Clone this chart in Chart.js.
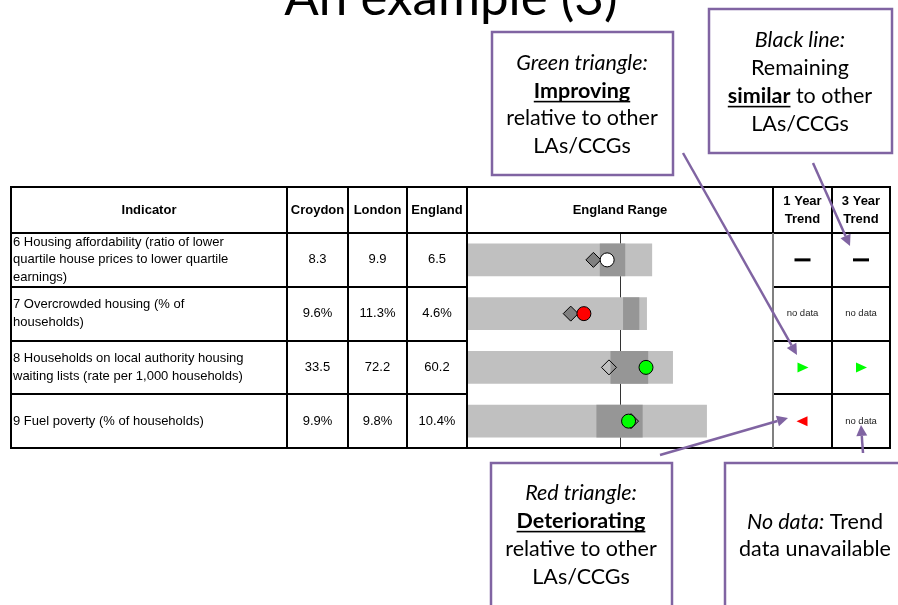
<!DOCTYPE html>
<html>
<head>
<meta charset="utf-8">
<script src="https://cdn.jsdelivr.net/npm/chart.js@4/dist/chart.umd.min.js"></script>
<style>
  html, body { margin: 0; padding: 0; background: #fff; }
  canvas { display: block; }
</style>
</head>
<body>
<canvas id="spine" width="898" height="605"></canvas>
<script>
// Table data
const indicatorIds = ['6', '7', '8', '9'];
const indicatorLines = [
  ['6 Housing affordability (ratio of lower', 'quartile house prices to lower quartile', 'earnings)'],
  ['7 Overcrowded housing (% of', 'households)'],
  ['8 Households on local authority housing', 'waiting lists (rate per 1,000 households)'],
  ['9 Fuel poverty (% of households)']
];
const croydon = ['8.3', '9.6%', '33.5', '9.9%'];
const london = ['9.9', '11.3%', '72.2', '9.8%'];
const england = ['6.5', '4.6%', '60.2', '10.4%'];

// Spine positions, 0-100 across the England Range column (England average = 50)
const englandAvg = 50;
const rangeStart = [0, 0, 0, 0];
const rangeEnd = [60.4, 58.7, 67.2, 78.3];
const q1 = [43.5, 51.1, 47.0, 42.4];
const q3 = [51.6, 56.2, 59.1, 57.3];
const londonPos = [41.3, 33.9, 46.4, 53.6];
const croydonPos = [45.8, 38.2, 58.5, 52.8];
const croydonSig = ['none', 'worse', 'better', 'better'];

// Trends
const trend1 = ['same', 'nodata', 'up', 'down'];
const trend3 = ['same', 'nodata', 'up', 'nodata'];

const sigColour = { none: '#FFFFFF', worse: '#FF0000', better: '#00FF00' };
const londonFill = ['#808080', '#808080', 'rgba(0,0,0,0)', '#808080'];

const TAB = '"Liberation Sans", Arial, sans-serif';
const CAL = 'Lato, "Open Sans", sans-serif';
const PURPLE = '#8064A2';
const colX = [11, 287, 348, 407, 467, 773, 832, 890];
const tableTop = 187, headBottom = 233;

function runsLine(ctx, runs, cx, cy, size) {
  let total = 0;
  runs.forEach(r => {
    ctx.font = (r.s || '') + ' ' + size + 'px ' + CAL;
    r.w = ctx.measureText(r.t).width;
    total += r.w;
  });
  let x = cx - total / 2;
  const base = cy + size * 0.34;
  ctx.textAlign = 'left';
  ctx.textBaseline = 'alphabetic';
  ctx.fillStyle = '#000';
  runs.forEach(r => {
    ctx.font = (r.s || '') + ' ' + size + 'px ' + CAL;
    ctx.fillText(r.t, x, base);
    if (r.u) {
      ctx.fillRect(x, base + 2.5, r.w, 1.6);
    }
    x += r.w;
  });
}

function callout(ctx, box, lines, cx) {
  ctx.fillStyle = '#fff';
  ctx.fillRect(box[0], box[1], box[2] - box[0], box[3] - box[1]);
  ctx.strokeStyle = PURPLE;
  ctx.lineWidth = 2.5;
  ctx.strokeRect(box[0], box[1], box[2] - box[0], box[3] - box[1]);
  lines.forEach(l => runsLine(ctx, l.runs, cx, l.y, 21.5));
}

function arrow(ctx, x0, y0, x1, y1) {
  const a = Math.atan2(y1 - y0, x1 - x0);
  const len = 11, hw = 5.5;
  const bx = x1 - Math.cos(a) * len, by = y1 - Math.sin(a) * len;
  ctx.strokeStyle = PURPLE;
  ctx.fillStyle = PURPLE;
  ctx.lineWidth = 2.5;
  ctx.beginPath();
  ctx.moveTo(x0, y0);
  ctx.lineTo(bx, by);
  ctx.stroke();
  ctx.beginPath();
  ctx.moveTo(x1, y1);
  ctx.lineTo(bx + Math.sin(a) * hw, by - Math.cos(a) * hw);
  ctx.lineTo(bx - Math.sin(a) * hw, by + Math.cos(a) * hw);
  ctx.closePath();
  ctx.fill();
}

function trendMark(ctx, kind, cx, cy) {
  if (kind === 'same') {
    ctx.fillStyle = '#000';
    ctx.fillRect(cx - 8, cy - 1.5, 16, 3);
  } else if (kind === 'up') {
    ctx.fillStyle = '#00FF00';
    ctx.beginPath();
    ctx.moveTo(cx - 5, cy - 5);
    ctx.lineTo(cx + 6, cy);
    ctx.lineTo(cx - 5, cy + 5);
    ctx.closePath();
    ctx.fill();
  } else if (kind === 'down') {
    ctx.fillStyle = '#FF0000';
    ctx.beginPath();
    ctx.moveTo(cx + 5, cy - 5);
    ctx.lineTo(cx - 6, cy);
    ctx.lineTo(cx + 5, cy + 5);
    ctx.closePath();
    ctx.fill();
  } else {
    ctx.fillStyle = '#222';
    ctx.font = '9.5px ' + TAB;
    ctx.textAlign = 'center';
    ctx.textBaseline = 'middle';
    ctx.fillText('no data', cx, cy);
  }
}

const slidePlugin = {
  id: 'slide',
  beforeDatasetsDraw(chart) {
    const ctx = chart.ctx, a = chart.chartArea;
    const x = Math.round(chart.scales.x.getPixelForValue(englandAvg)) + 0.5;
    ctx.save();
    ctx.strokeStyle = '#333';
    ctx.lineWidth = 1;
    ctx.beginPath();
    ctx.moveTo(x, a.top);
    ctx.lineTo(x, a.bottom);
    ctx.stroke();
    ctx.restore();
  },
  afterDraw(chart) {
    const ctx = chart.ctx, a = chart.chartArea, ys = chart.scales.y;
    const rowH = (a.bottom - a.top) / indicatorIds.length;
    ctx.save();

    // title
    ctx.fillStyle = '#000';
    ctx.font = '44px ' + CAL;
    const tw = ctx.measureText('An example (3)').width;
    ctx.font = (44 * 333 / tw).toFixed(1) + 'px ' + CAL;
    ctx.textAlign = 'center';
    ctx.textBaseline = 'alphabetic';
    ctx.fillText('An example (3)', 451, 15);

    // table header text
    ctx.fillStyle = '#000';
    ctx.font = 'bold 13px ' + TAB;
    ctx.textAlign = 'center';
    ctx.textBaseline = 'middle';
    const hy = (tableTop + headBottom) / 2;
    ctx.fillText('Indicator', (colX[0] + colX[1]) / 2, hy);
    ctx.fillText('Croydon', (colX[1] + colX[2]) / 2, hy);
    ctx.fillText('London', (colX[2] + colX[3]) / 2, hy);
    ctx.fillText('England', (colX[3] + colX[4]) / 2, hy);
    ctx.fillText('England Range', (colX[4] + colX[5]) / 2, hy);
    ctx.fillText('1 Year', (colX[5] + colX[6]) / 2, hy - 9);
    ctx.fillText('Trend', (colX[5] + colX[6]) / 2, hy + 9);
    ctx.fillText('3 Year', (colX[6] + colX[7]) / 2, hy - 9);
    ctx.fillText('Trend', (colX[6] + colX[7]) / 2, hy + 9);

    // table body text
    indicatorIds.forEach((id, i) => {
      const cy = ys.getPixelForValue(i);
      ctx.font = '13px ' + TAB;
      ctx.fillStyle = '#000';
      ctx.textAlign = 'left';
      const lines = indicatorLines[i];
      lines.forEach((t, k) => {
        ctx.fillText(t, colX[0] + 2, cy + (k - (lines.length - 1) / 2) * 17.5);
      });
      ctx.textAlign = 'center';
      ctx.fillText(croydon[i], (colX[1] + colX[2]) / 2, cy);
      ctx.fillText(london[i], (colX[2] + colX[3]) / 2, cy);
      ctx.fillText(england[i], (colX[3] + colX[4]) / 2, cy);
      trendMark(ctx, trend1[i], (colX[5] + colX[6]) / 2, cy);
      trendMark(ctx, trend3[i], (colX[6] + colX[7]) / 2, cy);
    });

    // grid
    ctx.strokeStyle = '#000';
    ctx.lineWidth = 2;
    const hl = (x0, x1, y) => { ctx.beginPath(); ctx.moveTo(x0, y); ctx.lineTo(x1, y); ctx.stroke(); };
    const vl = (x, y0, y1) => { ctx.beginPath(); ctx.moveTo(x, y0); ctx.lineTo(x, y1); ctx.stroke(); };
    hl(colX[0] - 1, colX[7] + 1, tableTop);
    hl(colX[0] - 1, colX[7] + 1, headBottom);
    hl(colX[0] - 1, colX[7] + 1, a.bottom);
    for (let r = 1; r < indicatorIds.length; r++) {
      const y = Math.round(a.top + r * rowH);
      hl(colX[0], colX[4], y);
      hl(colX[5], colX[7], y);
    }
    colX.forEach((x, k) => {
      if (k === 5) {
        vl(x, tableTop, headBottom);
      } else {
        vl(x, tableTop, a.bottom);
      }
    });
    ctx.strokeStyle = '#808080';
    vl(colX[5], headBottom, a.bottom);

    // callouts
    callout(ctx, [492, 32, 673, 175], [
      { y: 63, runs: [{ t: 'Green triangle:', s: 'italic' }] },
      { y: 91, runs: [{ t: 'Improving', s: 'bold', u: true }] },
      { y: 118, runs: [{ t: 'relative to other' }] },
      { y: 146, runs: [{ t: 'LAs/CCGs' }] }
    ], 582);
    callout(ctx, [709, 9, 892, 153], [
      { y: 40, runs: [{ t: 'Black line:', s: 'italic' }] },
      { y: 68, runs: [{ t: 'Remaining' }] },
      { y: 96, runs: [{ t: 'similar', s: 'bold', u: true }, { t: ' to other' }] },
      { y: 124, runs: [{ t: 'LAs/CCGs' }] }
    ], 800);
    callout(ctx, [491, 463, 672, 620], [
      { y: 493, runs: [{ t: 'Red triangle:', s: 'italic' }] },
      { y: 521, runs: [{ t: 'Deteriorating', s: 'bold', u: true }] },
      { y: 549, runs: [{ t: 'relative to other' }] },
      { y: 577, runs: [{ t: 'LAs/CCGs' }] }
    ], 581);
    callout(ctx, [725, 463, 910, 620], [
      { y: 522, runs: [{ t: 'No data:', s: 'italic' }, { t: ' Trend' }] },
      { y: 549, runs: [{ t: 'data unavailable' }] }
    ], 815);

    // arrows
    arrow(ctx, 683, 153, 797, 355);
    arrow(ctx, 813, 163, 850, 246);
    arrow(ctx, 660, 455, 788, 418);
    arrow(ctx, 863, 453, 861, 425);

    ctx.restore();
  }
};

const ctx = document.getElementById('spine').getContext('2d');
new Chart(ctx, {
  type: 'bar',
  data: {
    labels: indicatorIds,
    datasets: [
      {
        type: 'scatter',
        label: 'Croydon',
        data: croydonPos.map((v, i) => ({ x: v, y: indicatorIds[i] })),
        pointStyle: 'circle',
        pointRadius: 7,
        pointBackgroundColor: croydonSig.map(s => sigColour[s]),
        pointBorderColor: '#000',
        pointBorderWidth: 1,
        order: 0
      },
      {
        type: 'scatter',
        label: 'London',
        data: londonPos.map((v, i) => ({ x: v, y: indicatorIds[i] })),
        pointStyle: 'rectRot',
        pointRadius: 7.5,
        pointBackgroundColor: londonFill,
        pointBorderColor: '#000',
        pointBorderWidth: 1,
        order: 1
      },
      {
        label: '25th to 75th percentile',
        data: q1.map((v, i) => [v, q3[i]]),
        backgroundColor: '#969696',
        barThickness: 32,
        grouped: false,
        order: 2
      },
      {
        label: 'England range',
        data: rangeStart.map((v, i) => [v, rangeEnd[i]]),
        backgroundColor: '#C0C0C0',
        barThickness: 32,
        grouped: false,
        order: 3
      }
    ]
  },
  options: {
    indexAxis: 'y',
    responsive: false,
    animation: false,
    devicePixelRatio: 1,
    layout: { padding: { left: 467, right: 125, top: 233, bottom: 157 } },
    scales: {
      x: { type: 'linear', min: 0, max: 100, display: false },
      y: { type: 'category', display: false, offset: true }
    },
    plugins: { legend: { display: false }, tooltip: { enabled: false } }
  },
  plugins: [slidePlugin]
});
</script>
</body>
</html>
